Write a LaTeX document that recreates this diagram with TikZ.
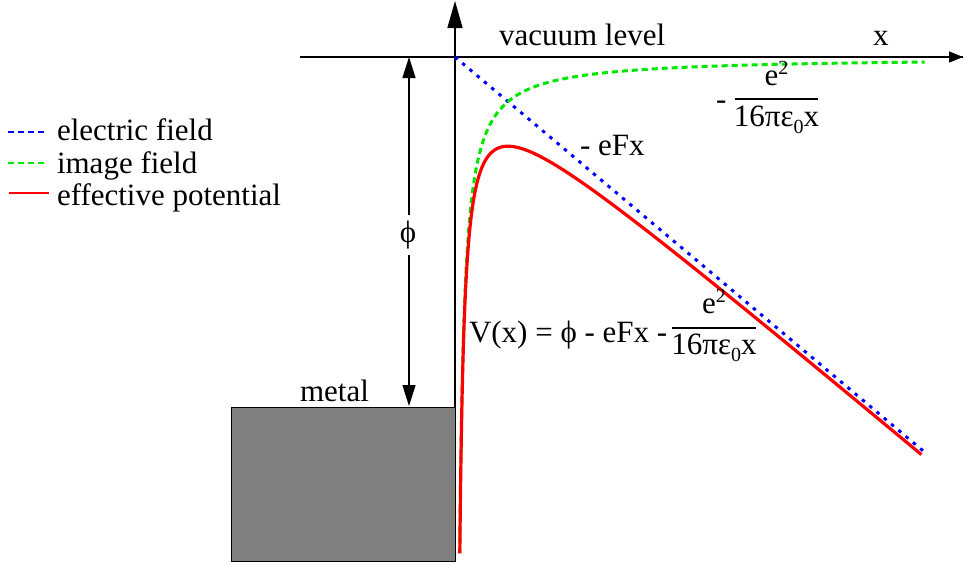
\documentclass[tikz,border=0pt]{standalone}
\usepackage{fontspec}
\setmainfont{Liberation Serif}
\usetikzlibrary{arrows.meta}
\definecolor{efblue}{RGB}{0,0,255}
\definecolor{efgreen}{RGB}{0,230,0}
\definecolor{efred}{RGB}{255,0,0}
\newcommand{\supt}[1]{\raisebox{11pt}{\fontsize{20}{20}\selectfont #1}}
\newcommand{\subt}[1]{\raisebox{-7pt}{\fontsize{20}{20}\selectfont #1}}
\begin{document}
\begin{tikzpicture}[x=1pt,y=-1pt,
  every node/.style={inner sep=0pt,outer sep=0pt,font=\fontsize{31}{36}\selectfont},
  lbl/.style={anchor=base west},
  ctr/.style={anchor=base},
  axis/.style={black,line width=1.8pt},
  bluedash/.style={efblue,line width=3pt,dash pattern=on 3.5pt off 6pt},
  greendash/.style={efgreen,line width=3pt,dash pattern=on 6pt off 4pt},
  redline/.style={efred,line width=3.2pt},
  fracbar/.style={black,line width=1.6pt}]
\useasboundingbox (0,0) rectangle (964,565);
% metal block
\node[draw=black,line width=1pt,fill={rgb,255:red,128;green,128;blue,128},minimum width=224pt,minimum height=154pt,anchor=north west] (metal) at (231,407) {};
\node[lbl] (metaltxt) at (300,401.5) {metal};
% axes
\coordinate (hstart) at (300,57);
\coordinate (hend) at (963,57);
\coordinate (vbot) at (455,407);
\coordinate (vtop) at (455,1);
\draw[axis] (hstart) -- (hend);
\draw[axis,line width=1.4pt,-{Triangle[length=14pt,width=11pt]}] (hstart) -- (hend);
\draw[black,line width=1.4pt,-{Triangle[length=27pt,width=15pt]}] (vbot) -- (vtop);
% phi arrow
\coordinate (ptop) at (409,57);
\coordinate (pbot) at (409,406);
\draw[black,line width=1.4pt,{Triangle[length=21pt,width=13pt]}-{Triangle[length=21pt,width=13pt]}] (ptop) -- (pbot);
\node[fill=white,inner ysep=6pt,inner xsep=2pt] (phi) at (408,235) {ϕ};
% labels on axes
\node[lbl] (vac) at (499,45) {vacuum level};
\node[lbl] (xlab) at (873,45) {x};
% curves
\draw[bluedash] (455,57) -- (923,450.8);
\draw[greendash] plot[domain=1.562:6.153,samples=300,variable=\t] ({455+exp(\t)},{57+2364/exp(\t)});
\draw[redline] plot[domain=1.569:6.148,samples=300,variable=\t] ({455+exp(\t)},{57+0.8415*exp(\t)+2364/exp(\t)});
% -eFx
\node[lbl] (efx) at (580,155) {- eFx};
% image term
\node[lbl] (imgminus) at (716,109) {-};
\draw[fracbar] (735,99) -- (818,99);
\node[ctr] (imgnum) at (776.5,85) {e\supt{2}};
\node[ctr] (imgden) at (776.5,126) {16πε\subt{0}x};
% V(x) formula
\node[lbl] (vx) at (469,342) {V(x) = ϕ - eFx -};
\draw[fracbar] (672,328) -- (756,328);
\node[ctr] (vnum) at (714,313) {e\supt{2}};
\node[ctr] (vden) at (714,354) {16πε\subt{0}x};
% legend
\coordinate (l1a) at (8,132); \coordinate (l1b) at (47,132);
\coordinate (l2a) at (8,163); \coordinate (l2b) at (47,163);
\coordinate (l3a) at (9,193); \coordinate (l3b) at (49,193);
\draw[efblue,line width=2.6pt,dash pattern=on 6pt off 4pt] (l1a) -- (l1b);
\draw[efgreen,line width=2.6pt,dash pattern=on 6pt off 4pt] (l2a) -- (l2b);
\draw[efred,line width=2.6pt] (l3a) -- (l3b);
\node[lbl] (leg1) at (57,140.5) {electric field};
\node[lbl] (leg2) at (57,173) {image field};
\node[lbl] (leg3) at (57,205) {effective potential};
\end{tikzpicture}
\end{document}
